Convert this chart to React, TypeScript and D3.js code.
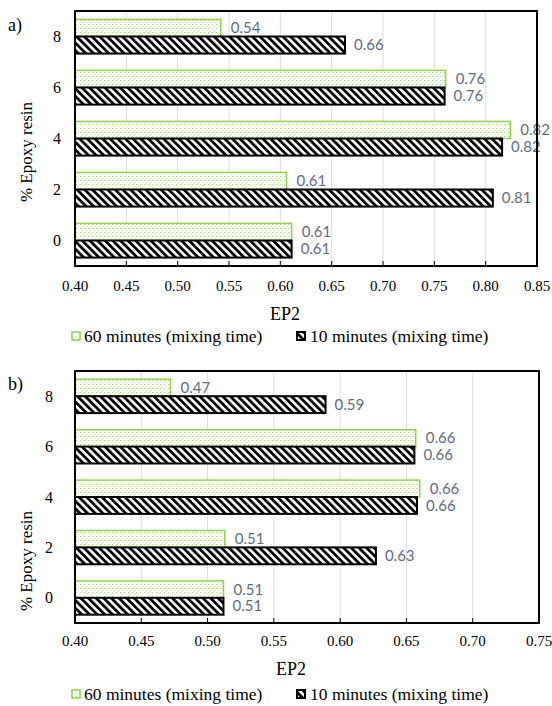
import React from "react";
import * as d3 from "d3";

const categories = ["8", "6", "4", "2", "0"];
const seriesNames = ["60 minutes (mixing time)", "10 minutes (mixing time)"];

const panelA60 = [0.542, 0.761, 0.824, 0.606, 0.611];
const panelA10 = [0.663, 0.760, 0.816, 0.807, 0.611];
const ticksA = [0.4, 0.45, 0.5, 0.55, 0.6, 0.65, 0.7, 0.75, 0.8, 0.85];

const panelB60 = [0.472, 0.657, 0.660, 0.513, 0.512];
const panelB10 = [0.589, 0.656, 0.658, 0.627, 0.512];
const ticksB = [0.4, 0.45, 0.5, 0.55, 0.6, 0.65, 0.7, 0.75];

const yTitle = "% Epoxy resin";
const xTitle = "EP2";

const SERIF = '"Liberation Serif"';
const SANS = '"Lato"';
const GREEN = "#92D050";
const LABEL = "#5f6d84";
const GRID = "#d9dfe8";

type PanelProps = {
  tag: string;
  v60: number[];
  v10: number[];
  ticks: number[];
  left: number;
  right: number;
  top: number;
  bottom: number;
  tagY: number;
  yLabelX: number;
  titleY: number;
  tickLabelY: number;
  xTitleX: number;
  xTitleY: number;
  legendY: number;
};

function Panel(p: PanelProps) {
  const x = d3
    .scaleLinear()
    .domain([p.ticks[0], p.ticks[p.ticks.length - 1]])
    .range([p.left, p.right]);
  const y = d3
    .scaleBand<string>()
    .domain(categories)
    .range([p.top, p.bottom])
    .paddingInner(0.33)
    .paddingOuter(0.165);
  const bh = y.bandwidth() / 2;
  const fmt = d3.format(".2f");
  const x0 = x(p.ticks[0]);
  const serif = { fontFamily: SERIF };
  const sans = { fontFamily: SANS };
  return (
    <g>
      <text x={8} y={p.tagY} style={serif} fontSize={18} fill="#000">
        {p.tag}
      </text>
      {p.ticks.slice(1, -1).map((t) => (
        <line key={"g" + t} x1={x(t)} x2={x(t)} y1={p.top} y2={p.bottom} stroke={GRID} strokeWidth={1} />
      ))}
      {categories.map((c, i) => {
        const yb = y(c) as number;
        return (
          <g key={"b" + c}>
            <rect x={x0} y={yb} width={x(p.v60[i]) - x0} height={bh} fill="url(#dots)" stroke={GREEN} strokeWidth={1.5} />
            <rect x={x0} y={yb + bh} width={x(p.v10[i]) - x0} height={bh} fill="url(#hatch)" stroke="#000" strokeWidth={2} />
            <text x={x(p.v60[i]) + 10} y={yb + bh / 2} dy="0.35em" style={sans} fontSize={15} fill={LABEL}>
              {fmt(p.v60[i])}
            </text>
            <text x={x(p.v10[i]) + 9} y={yb + bh * 1.5} dy="0.35em" style={sans} fontSize={15} fill={LABEL}>
              {fmt(p.v10[i])}
            </text>
            <text x={p.yLabelX} y={yb + bh} dy="0.35em" textAnchor="end" style={serif} fontSize={16} fill="#000">
              {c}
            </text>
          </g>
        );
      })}
      {p.ticks.slice(1, -1).map((t) => (
        <line key={"t" + t} x1={x(t)} x2={x(t)} y1={p.bottom} y2={p.bottom - 5} stroke="#000" strokeWidth={1} />
      ))}
      <rect x={p.left} y={p.top} width={p.right - p.left} height={p.bottom - p.top} fill="none" stroke="#000" strokeWidth={2} />
      {p.ticks.map((t) => (
        <text key={"l" + t} x={x(t)} y={p.tickLabelY} textAnchor="middle" style={serif} fontSize={15} fill="#000">
          {d3.format(".2f")(t)}
        </text>
      ))}
      <text x={p.xTitleX} y={p.xTitleY} textAnchor="middle" style={serif} fontSize={18} fill="#000">
        {xTitle}
      </text>
      <text
        transform={`translate(26,${p.titleY}) rotate(-90)`}
        textAnchor="middle"
        dy="0.35em"
        style={serif}
        fontSize={17}
        fill="#000"
      >
        {yTitle}
      </text>
      <g>
        <rect x={72} y={p.legendY - 10} width={8} height={8} fill="url(#dots)" stroke={GREEN} strokeWidth={1.5} />
        <text x={84} y={p.legendY} style={serif} fontSize={17.5} fill="#000">
          {seriesNames[0]}
        </text>
        <rect x={297} y={p.legendY - 10} width={8} height={8} fill="url(#hatch)" stroke="#000" strokeWidth={2} />
        <text x={310} y={p.legendY} style={serif} fontSize={17.5} fill="#000">
          {seriesNames[1]}
        </text>
      </g>
    </g>
  );
}

export default function App() {
  return (
    <svg
      width={552}
      height={706}
      viewBox="0 0 552 706"
      style={{ position: "absolute", left: 0, top: 0, background: "#fff" }}
    >
      <defs>
        <pattern id="hatch" width={5.4} height={10} patternUnits="userSpaceOnUse" patternTransform="rotate(-45)">
          <rect x={0} y={0} width={5.4} height={10} fill="#fff" />
          <rect x={0} y={0} width={2.8} height={10} fill="#000" />
        </pattern>
        <pattern id="dots" width={4} height={4} patternUnits="userSpaceOnUse">
          <rect x={0} y={0} width={4} height={4} fill="#fff" />
          <rect x={0} y={0} width={1} height={1} fill="#a6d872" />
          <rect x={2} y={2} width={1} height={1} fill="#d2eab8" />
        </pattern>
      </defs>
      <rect x={0} y={0} width={552} height={706} fill="#fff" />
      <Panel
        tag="a)"
        v60={panelA60}
        v10={panelA10}
        ticks={ticksA}
        left={75}
        right={537}
        top={11}
        bottom={266}
        tagY={31}
        yLabelX={61}
        titleY={152}
        tickLabelY={291}
        xTitleX={285}
        xTitleY={320}
        legendY={342}
      />
      <Panel
        tag="b)"
        v60={panelB60}
        v10={panelB10}
        ticks={ticksB}
        left={75}
        right={539}
        top={371}
        bottom={623}
        tagY={390}
        yLabelX={53}
        titleY={561}
        tickLabelY={646}
        xTitleX={291}
        xTitleY={675}
        legendY={700}
      />
    </svg>
  );
}
